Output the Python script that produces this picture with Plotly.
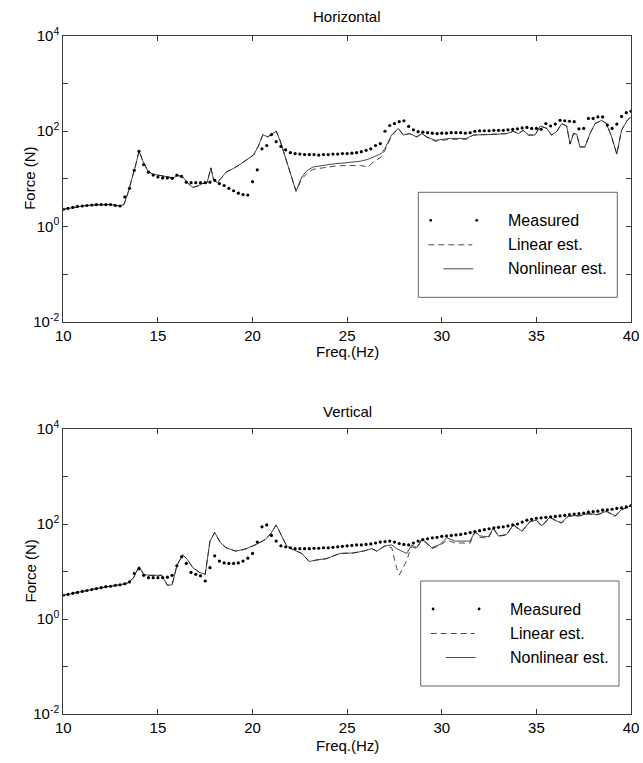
import plotly.graph_objects as go

# ---------------- DATA (log10 of force in N) ----------------
meas_freq = [10.0 + 0.25 * i for i in range(121)]  # measured grid (0.25 Hz spacing)

h_meas_log = [
    0.36, 0.38, 0.40, 0.42, 0.43, 0.44, 0.45, 0.46, 0.46, 0.46, 0.46, 0.44,   # 10.0-12.75
    0.43, 0.62, 0.80, 1.18, 1.58, 1.30, 1.14, 1.08, 1.04, 1.02, 1.02, 1.01,   # 13.0-15.75
    1.08, 1.05, 0.93, 0.92, 0.92, 0.92, 0.92, 0.93, 0.97, 0.90, 0.86, 0.80,   # 16.0-18.75
    0.75, 0.70, 0.67, 0.66, 0.94, 1.19, 1.63, 1.70, 1.93, 1.78, 1.68, 1.61,   # 19.0-21.75
    1.55, 1.53, 1.52, 1.51, 1.51, 1.51, 1.50, 1.51, 1.51, 1.52, 1.52, 1.53,   # 22.0-24.75
    1.53, 1.54, 1.55, 1.57, 1.60, 1.63, 1.70, 1.74, 2.00, 2.12, 2.16, 2.20,   # 25.0-27.75
    2.22, 2.10, 2.03, 1.99, 1.98, 1.97, 1.96, 1.95, 1.96, 1.96, 1.97, 1.97,   # 28.0-30.75
    1.97, 1.96, 1.97, 2.00, 2.01, 2.01, 2.01, 2.02, 2.02, 2.02, 2.03, 2.04,   # 31.0-33.75
    2.05, 2.07, 2.08, 2.06, 2.06, 2.04, 2.16, 2.11, 2.15, 2.23, 2.22, 2.21,   # 34.0-36.75
    2.20, 2.05, 2.06, 2.27, 2.27, 2.30, 2.30, 2.13, 2.06, 2.15, 2.31, 2.39,   # 37.0-39.75
    2.42,                                                                     # 40.0
]

h_nl_freq = [10.0, 10.5, 11.0, 11.5, 12.0, 12.5, 13.0, 13.2, 13.4, 13.6, 13.8, 14.0,
             14.2, 14.45, 14.7, 15.0, 15.4, 15.8, 16.05, 16.3, 16.6, 16.85, 17.1, 17.35,
             17.6, 17.8, 17.95, 18.15, 18.6, 19.0, 19.4, 19.8, 20.05, 20.3, 20.55, 20.8,
             21.25, 21.45, 21.85, 22.3, 22.6, 22.9, 23.2, 23.9, 24.4, 25.0, 25.7, 26.1,
             26.4, 26.8, 27.0, 27.35, 27.7, 27.97, 28.3, 28.68, 28.95, 29.2, 29.65, 30.43,
             31.3, 31.67, 32.55, 33.43, 33.78, 34.05, 34.3, 34.58, 34.93, 35.2, 35.55, 35.8,
             36.07, 36.34, 36.6, 36.78, 36.96, 37.13, 37.3, 37.57, 37.83, 38.1, 38.45, 38.7,
             38.98, 39.25, 39.5, 39.8, 40.0]
h_nl_log = [0.36, 0.40, 0.43, 0.45, 0.46, 0.46, 0.43, 0.46, 0.68, 0.95, 1.25, 1.58,
            1.38, 1.18, 1.10, 1.08, 1.05, 1.02, 1.07, 1.04, 0.90, 0.82, 0.85, 0.90,
            0.92, 1.23, 0.97, 0.92, 1.14, 1.22, 1.32, 1.42, 1.50, 1.68, 1.93, 1.88,
            2.00, 1.81, 1.32, 0.74, 1.04, 1.18, 1.25, 1.30, 1.32, 1.34, 1.37, 1.41,
            1.46, 1.53, 1.64, 1.92, 2.06, 1.92, 1.95, 1.88, 1.95, 1.88, 1.81, 1.85,
            1.85, 1.92, 1.93, 1.95, 2.00, 1.95, 2.02, 1.92, 1.92, 2.11, 2.06, 1.92,
            1.99, 2.16, 2.11, 1.73, 1.95, 1.94, 1.67, 1.67, 1.95, 2.16, 2.23, 2.16,
            1.88, 1.52, 2.02, 2.23, 2.30]

h_lin_freq = h_nl_freq
h_lin_log = [0.36, 0.40, 0.43, 0.45, 0.46, 0.46, 0.43, 0.46, 0.68, 0.95, 1.25, 1.58,
             1.38, 1.18, 1.10, 1.08, 1.05, 1.02, 1.07, 1.04, 0.90, 0.82, 0.85, 0.90,
             0.92, 1.23, 0.97, 0.92, 1.14, 1.22, 1.32, 1.42, 1.50, 1.68, 1.93, 1.88,
             2.00, 1.81, 1.32, 0.74, 1.00, 1.12, 1.20, 1.25, 1.27, 1.28, 1.28, 1.25,
             1.36, 1.46, 1.60, 1.90, 2.06, 1.92, 1.95, 1.88, 1.95, 1.88, 1.79, 1.83,
             1.83, 1.92, 1.93, 1.95, 2.00, 1.95, 2.02, 1.92, 1.92, 2.11, 2.06, 1.92,
             1.99, 2.16, 2.11, 1.73, 1.95, 1.94, 1.67, 1.67, 1.95, 2.16, 2.23, 2.16,
             1.88, 1.52, 2.02, 2.23, 2.30]

v_meas_log = [
    0.50, 0.52, 0.54, 0.56, 0.58, 0.60, 0.62, 0.64, 0.66, 0.68, 0.69, 0.71,   # 10.0-12.75
    0.72, 0.74, 0.78, 0.96, 1.06, 0.92, 0.87, 0.87, 0.87, 0.87, 0.88, 0.92,   # 13.0-15.75
    1.12, 1.31, 1.17, 0.98, 0.94, 0.91, 0.80, 1.08, 1.33, 1.22, 1.18, 1.17,   # 16.0-18.75
    1.17, 1.18, 1.22, 1.28, 1.38, 1.62, 1.94, 1.98, 1.76, 1.64, 1.54, 1.52,   # 19.0-21.75
    1.50, 1.48, 1.48, 1.48, 1.48, 1.49, 1.49, 1.50, 1.50, 1.51, 1.52, 1.53,   # 22.0-24.75
    1.54, 1.55, 1.56, 1.56, 1.57, 1.58, 1.60, 1.62, 1.63, 1.64, 1.62, 1.59,   # 25.0-27.75
    1.57, 1.56, 1.60, 1.64, 1.67, 1.69, 1.71, 1.72, 1.74, 1.75, 1.76, 1.77,   # 28.0-30.75
    1.78, 1.80, 1.82, 1.84, 1.86, 1.88, 1.90, 1.92, 1.93, 1.94, 1.96, 1.98,   # 31.0-33.75
    2.00, 2.04, 2.08, 2.10, 2.12, 2.13, 2.14, 2.15, 2.16, 2.17, 2.18, 2.20,   # 34.0-36.75
    2.21, 2.22, 2.23, 2.25, 2.26, 2.27, 2.29, 2.30, 2.31, 2.33, 2.34, 2.36,   # 37.0-39.75
    2.39,                                                                     # 40.0
]

v_nl_freq = [10.0, 11.0, 12.0, 13.0, 13.4, 13.7, 14.0, 14.25, 14.5, 15.2, 15.5, 15.75,
             16.0, 16.3, 16.5, 16.85, 17.2, 17.5, 17.75, 18.0, 18.3, 18.6, 19.1, 19.6,
             20.2, 20.7, 21.0, 21.25, 21.5, 21.8, 22.1, 22.6, 23.0, 23.35, 23.9, 24.62,
             25.33, 25.86, 26.3, 26.56, 27.0, 27.36, 27.62, 28.15, 28.41, 28.68, 28.94, 29.2,
             29.47, 29.91, 30.27, 30.71, 31.5, 31.76, 32.0, 32.46, 32.73, 32.99, 33.43, 33.78,
             34.23, 34.67, 35.02, 35.28, 35.72, 36.08, 36.34, 36.69, 37.3, 37.75, 38.19, 38.72,
             39.16, 39.51, 40.0]
v_nl_log = [0.50, 0.58, 0.66, 0.72, 0.76, 0.86, 1.10, 0.94, 0.92, 0.92, 0.71, 0.72,
            1.12, 1.35, 1.28, 1.08, 0.98, 0.94, 1.64, 1.82, 1.61, 1.50, 1.43, 1.47,
            1.57, 1.68, 1.82, 1.98, 1.78, 1.54, 1.47, 1.38, 1.21, 1.24, 1.27, 1.38,
            1.39, 1.43, 1.48, 1.43, 1.54, 1.56, 1.48, 1.38, 1.56, 1.50, 1.68, 1.61,
            1.50, 1.57, 1.71, 1.64, 1.64, 1.85, 1.75, 1.73, 1.92, 1.75, 1.78, 1.99,
            1.85, 2.06, 2.08, 1.96, 2.15, 2.06, 2.03, 2.17, 2.18, 2.22, 2.20, 2.27,
            2.17, 2.31, 2.38]

v_lin_freq = [10.0, 11.0, 12.0, 13.0, 13.4, 13.7, 14.0, 14.25, 14.5, 15.2, 15.5, 15.75,
              16.0, 16.3, 16.5, 16.85, 17.2, 17.5, 17.75, 18.0, 18.3, 18.6, 19.1, 19.6,
              20.2, 20.7, 21.0, 21.25, 21.5, 21.8, 22.1, 22.6, 23.0, 23.35, 23.9, 24.62,
              25.33, 25.86, 26.3, 26.56, 27.0, 27.36, 27.44, 27.62, 27.76, 28.15, 28.3, 28.41,
              28.68, 28.94, 29.2, 29.47, 29.91, 30.27, 30.71, 31.5, 31.76, 32.0, 32.46, 32.73,
              32.99, 33.43, 33.78, 34.23, 34.67, 35.02, 35.28, 35.72, 36.08, 36.34, 36.69, 37.3,
              37.75, 38.19, 38.72, 39.16, 39.51, 40.0]
v_lin_log = [0.50, 0.58, 0.66, 0.72, 0.76, 0.86, 1.10, 0.94, 0.92, 0.92, 0.71, 0.72,
             1.12, 1.35, 1.28, 1.08, 0.98, 0.94, 1.64, 1.82, 1.61, 1.50, 1.43, 1.47,
             1.57, 1.68, 1.82, 1.98, 1.78, 1.54, 1.47, 1.38, 1.21, 1.24, 1.27, 1.38,
             1.39, 1.43, 1.48, 1.43, 1.54, 1.50, 1.35, 1.07, 0.93, 1.23, 1.42, 1.52,
             1.48, 1.66, 1.59, 1.48, 1.55, 1.66, 1.60, 1.60, 1.83, 1.72, 1.70, 1.90,
             1.74, 1.77, 1.98, 1.84, 2.05, 2.07, 1.95, 2.14, 2.05, 2.02, 2.16, 2.17,
             2.21, 2.19, 2.26, 2.16, 2.30, 2.38]

y_major_vals = [1e-2, 1e0, 1e2, 1e4]
y_major_text = ["10<sup>-2</sup>", "10<sup>0</sup>", "10<sup>2</sup>", "10<sup>4</sup>"]
y_minor_vals = [1e-1, 1e1, 1e3]
x_tick_vals = [10, 15, 20, 25, 30, 35, 40]
panel_titles = ["Horizontal", "Vertical"]
legend_names = ["Measured", "Linear est.", "Nonlinear est."]
x_title = "Freq.(Hz)"
y_title = "Force (N)"

# ---------------- FIGURE ----------------
W, H = 643, 763
FONT = "Liberation Sans, Arial, Helvetica, sans-serif"
AX = "#3a3a3a"
LINE = "#1a1a1a"


def px(x):
    return x / W


def py(y):
    return 1 - y / H


def pow10(v):
    return [10 ** a for a in v]


fig = go.Figure()

panels = [
    dict(meas=h_meas_log, lf=h_lin_freq, ll=h_lin_log, nf=h_nl_freq, nl=h_nl_log,
         top=36.0, bot=321.7, xa="x", ya="y"),
    dict(meas=v_meas_log, lf=v_lin_freq, ll=v_lin_log, nf=v_nl_freq, nl=v_nl_log,
         top=429.0, bot=714.0, xa="x2", ya="y2"),
]

for p in panels:
    fig.add_trace(go.Scatter(x=p["lf"], y=pow10(p["ll"]), mode="lines", xaxis=p["xa"], yaxis=p["ya"],
                             line=dict(color=LINE, width=0.8, dash="6px,4px"), name=legend_names[1]))
    fig.add_trace(go.Scatter(x=p["nf"], y=pow10(p["nl"]), mode="lines", xaxis=p["xa"], yaxis=p["ya"],
                             line=dict(color=LINE, width=0.8), name=legend_names[2]))
    fig.add_trace(go.Scatter(x=meas_freq, y=pow10(p["meas"]), mode="markers", xaxis=p["xa"], yaxis=p["ya"],
                             marker=dict(color="black", size=3.2), name=legend_names[0]))

x_left, x_right = 63.3, 631.0
axis_common = dict(showline=True, linecolor=AX, linewidth=1, mirror="ticks", ticks="inside",
                   ticklen=5, tickcolor=AX, tickwidth=1, showgrid=False, zeroline=False,
                   automargin=False,
                   tickfont=dict(family=FONT, size=15, color="black"))

layout = dict(width=W, height=H, margin=dict(l=0, r=0, t=0, b=0, pad=0, autoexpand=False),
              paper_bgcolor="white", plot_bgcolor="white", showlegend=False)

for i, p in enumerate(panels):
    xname = "xaxis" if i == 0 else "xaxis2"
    yname = "yaxis" if i == 0 else "yaxis2"
    layout[xname] = dict(axis_common, domain=[px(x_left), px(x_right)], range=[10, 40],
                         tickvals=x_tick_vals, anchor=p["ya"])
    layout[yname] = dict(axis_common, domain=[py(p["bot"]), py(p["top"])], type="log",
                         range=[-2, 4], tickvals=y_major_vals, ticktext=y_major_text,
                         minor=dict(tickvals=y_minor_vals, ticks="inside", ticklen=5,
                                    tickcolor=AX, tickwidth=1, showgrid=False),
                         anchor=p["xa"])
fig.update_layout(**layout)

annotations = []
shapes = []
title_y = [17, 411]
xtitle_y = [352, 745]
for i, p in enumerate(panels):
    cx = (x_left + x_right) / 2
    annotations.append(dict(text=panel_titles[i], x=px(cx), y=py(title_y[i]), xref="paper", yref="paper",
                            showarrow=False, font=dict(family=FONT, size=15, color="black"),
                            xanchor="center", yanchor="middle"))
    annotations.append(dict(text=x_title, x=px(cx), y=py(xtitle_y[i]), xref="paper", yref="paper",
                            showarrow=False, font=dict(family=FONT, size=15, color="black"),
                            xanchor="center", yanchor="middle"))
    annotations.append(dict(text=y_title, x=px(30), y=py((p["top"] + p["bot"]) / 2), xref="paper",
                            yref="paper", showarrow=False, textangle=-90,
                            font=dict(family=FONT, size=15, color="black"),
                            xanchor="center", yanchor="middle"))

# manual legends
legend_boxes = [(418.3, 617.3, 192.3, 297.3), (420.7, 619.0, 581.0, 686.0)]
for (bx0, bx1, by0, by1) in legend_boxes:
    shapes.append(dict(type="rect", xref="paper", yref="paper", x0=px(bx0), x1=px(bx1),
                       y0=py(by1), y1=py(by0), line=dict(color="#555", width=0.9)))
    rows = [by0 + 28, by0 + 52.5, by0 + 76.5]
    for dx in (12.4, 58.4):
        cx = bx0 + dx
        shapes.append(dict(type="circle", xref="paper", yref="paper",
                           x0=px(cx - 1.4), x1=px(cx + 1.4), y0=py(rows[0] + 1.4), y1=py(rows[0] - 1.4),
                           fillcolor="black", line=dict(width=0)))
    shapes.append(dict(type="line", xref="paper", yref="paper", x0=px(bx0 + 10), x1=px(bx0 + 54),
                       y0=py(rows[1]), y1=py(rows[1]), line=dict(color=LINE, width=0.8, dash="6px,4px")))
    shapes.append(dict(type="line", xref="paper", yref="paper", x0=px(bx0 + 25), x1=px(bx0 + 55),
                       y0=py(rows[2]), y1=py(rows[2]), line=dict(color=LINE, width=0.8)))
    for r, name in zip(rows, legend_names):
        annotations.append(dict(text=name, x=px(bx0 + 87.5), y=py(r), xref="paper", yref="paper",
                                showarrow=False, xanchor="left", yanchor="middle",
                                font=dict(family=FONT, size=16, color="black")))

fig.update_layout(annotations=annotations, shapes=shapes)

# remove the browser's default 8px page margin so the 643x763 figure fills the window exactly
page_fix = "document.body.style.margin='0';document.body.style.overflow='hidden';"
fig.write_html("out.html", post_script=page_fix, config={"displayModeBar": False})
